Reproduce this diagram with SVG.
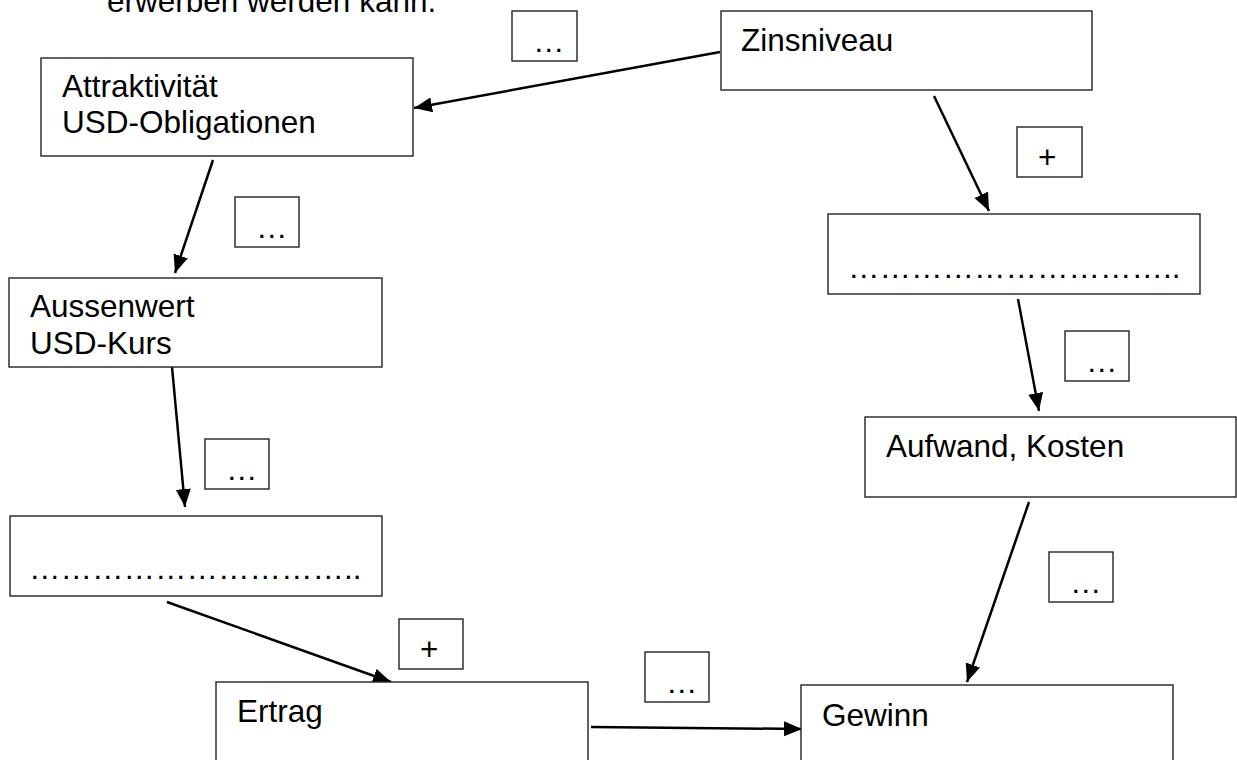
<svg xmlns="http://www.w3.org/2000/svg" width="1237" height="760" viewBox="0 0 1237 760">
<style>
  text { font-family: "Liberation Sans", Arial, sans-serif; font-size: 31.5px; fill: #000; }
  .box { fill: #fff; stroke: #222; stroke-width: 1.4; }
  .conn { stroke: #000; stroke-width: 2.5; fill: none; marker-end: url(#arrow); }
</style>
<defs>
  <marker id="arrow" markerUnits="userSpaceOnUse" markerWidth="19" markerHeight="16" refX="18" refY="7.5" orient="auto">
    <path d="M0,0 L18,7.5 L0,15 z" fill="#000"/>
  </marker>
</defs>
<rect width="1237" height="760" fill="#fff"/>
<text x="107" y="12">erwerben werden kann.</text>

<g id="connectors">
  <line class="conn" x1="720" y1="52" x2="414" y2="108"/>
  <line class="conn" x1="213" y1="160" x2="175" y2="273"/>
  <line class="conn" x1="172" y1="367" x2="185" y2="507"/>
  <line class="conn" x1="167" y1="602" x2="391" y2="682"/>
  <line class="conn" x1="591" y1="727" x2="802" y2="729"/>
  <line class="conn" x1="934" y1="96" x2="989" y2="211"/>
  <line class="conn" x1="1018" y1="299" x2="1039" y2="411"/>
  <line class="conn" x1="1029" y1="502" x2="967" y2="682"/>
</g>

<g id="zinsniveau">
  <rect class="box" x="721" y="11" width="371" height="79"/>
  <text x="741" y="51">Zinsniveau</text>
</g>
<g id="attraktivitaet">
  <rect class="box" x="41" y="58" width="372" height="98"/>
  <text x="62" y="97">Attraktivität</text>
  <text x="62" y="133">USD-Obligationen</text>
</g>
<g id="aussenwert">
  <rect class="box" x="9" y="278" width="373" height="89"/>
  <text x="30" y="317">Aussenwert</text>
  <text x="30" y="354">USD-Kurs</text>
</g>
<g id="luecke-links">
  <rect class="box" x="10" y="516" width="372" height="80"/>
  <text x="29" y="579">&#8230;&#8230;&#8230;&#8230;&#8230;&#8230;&#8230;&#8230;&#8230;&#8230;..</text>
</g>
<g id="ertrag">
  <rect class="box" x="216" y="682" width="372" height="90"/>
  <text x="237" y="722">Ertrag</text>
</g>
<g id="gewinn">
  <rect class="box" x="801" y="685" width="372" height="90"/>
  <text x="822" y="726">Gewinn</text>
</g>
<g id="luecke-rechts">
  <rect class="box" x="828" y="214" width="372" height="80"/>
  <text x="848" y="278">&#8230;&#8230;&#8230;&#8230;&#8230;&#8230;&#8230;&#8230;&#8230;&#8230;..</text>
</g>
<g id="aufwand">
  <rect class="box" x="865" y="417" width="371" height="80"/>
  <text x="886" y="457">Aufwand, Kosten</text>
</g>

<g id="label-zins-attr">
  <rect class="box" x="512" y="11" width="65" height="50"/>
  <text x="533" y="52">…</text>
</g>
<g id="label-attr-aussen">
  <rect class="box" x="235" y="197" width="64" height="50"/>
  <text x="256" y="238">…</text>
</g>
<g id="label-aussen-luecke">
  <rect class="box" x="205" y="439" width="64" height="50"/>
  <text x="226" y="480">…</text>
</g>
<g id="label-luecke-ertrag">
  <rect class="box" x="399" y="619" width="64" height="50"/>
  <text x="420" y="660">+</text>
</g>
<g id="label-ertrag-gewinn">
  <rect class="box" x="645" y="652" width="64" height="50"/>
  <text x="666" y="693">…</text>
</g>
<g id="label-zins-luecke">
  <rect class="box" x="1017" y="127" width="65" height="50"/>
  <text x="1038" y="168">+</text>
</g>
<g id="label-luecke-aufwand">
  <rect class="box" x="1065" y="331" width="64" height="50"/>
  <text x="1086" y="372">…</text>
</g>
<g id="label-aufwand-gewinn">
  <rect class="box" x="1049" y="552" width="64" height="50"/>
  <text x="1070" y="593">…</text>
</g>
</svg>
